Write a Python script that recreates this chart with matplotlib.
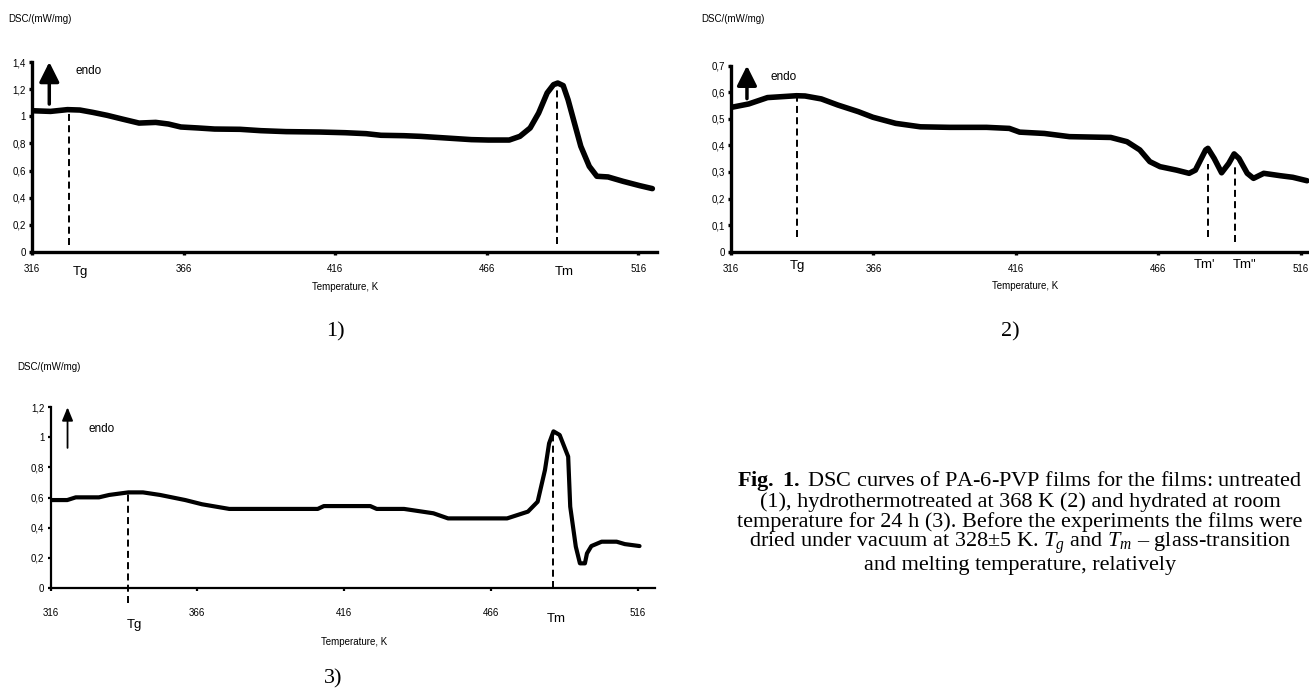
import matplotlib
matplotlib.use("Agg")
import matplotlib.pyplot as plt
from matplotlib.ticker import FixedLocator, FixedFormatter

# ---------------- data ----------------
x_ticks = [316, 366, 416, 466, 516]
x_tick_labels = ["316", "366", "416", "466", "516"]

# Panel 1: untreated
t1 = [316, 322.1, 327.7, 331.8, 336, 340.8, 345.7, 351.3, 356.8, 361, 365.1, 370.7,
      376.2, 384.6, 391.5, 399.8, 410.9, 419.3, 426.2, 431.1, 438.7, 444.2, 452.6,
      460.9, 466.5, 473.4, 476.9, 480.3, 483.1, 485.9, 488, 489.4, 491.2, 492.8,
      494.9, 497, 499.8, 502.3, 506, 510.9, 516.4, 520.6]
dsc1 = [1.041, 1.036, 1.049, 1.046, 1.029, 1.007, 0.98, 0.95, 0.955, 0.943, 0.921, 0.914,
        0.906, 0.904, 0.894, 0.887, 0.884, 0.879, 0.872, 0.86, 0.857, 0.852, 0.84,
        0.828, 0.825, 0.825, 0.852, 0.914, 1.024, 1.172, 1.233, 1.245, 1.226, 1.122,
        0.95, 0.779, 0.631, 0.558, 0.553, 0.521, 0.489, 0.467]
y1_ticks = [0, 0.2, 0.4, 0.6, 0.8, 1.0, 1.2, 1.4]
y1_labels = ["0", "0,2", "0,4", "0,6", "0,8", "1", "1,2", "1,4"]
tg1, tg1_top = 328.1, 1.047
tm1, tm1_top = 489.3, 1.245

# Panel 2: hydrothermotreated at 368 K
t2 = [316, 322.2, 328.8, 339, 342, 347.7, 353.5, 360.7, 365.8, 373.8, 382.5, 392.7,
      405.7, 413.7, 417.3, 426, 434.8, 449.3, 455, 459.5, 463, 466.6, 472.4, 476.8,
      479, 482.6, 483.4, 485.6, 488.2, 490.7, 492.6, 494.3, 497.2, 499.4, 503, 508.8,
      513.2, 518.2]
dsc2 = [0.543, 0.556, 0.58, 0.587, 0.586, 0.575, 0.552, 0.527, 0.506, 0.483, 0.47, 0.468,
        0.468, 0.464, 0.45, 0.445, 0.433, 0.43, 0.414, 0.383, 0.339, 0.32, 0.307, 0.295,
        0.307, 0.383, 0.389, 0.351, 0.297, 0.332, 0.368, 0.351, 0.295, 0.276, 0.295, 0.286,
        0.28, 0.267]
y2_ticks = [0, 0.1, 0.2, 0.3, 0.4, 0.5, 0.6, 0.7]
y2_labels = ["0", "0,1", "0,2", "0,3", "0,4", "0,5", "0,6", "0,7"]
tg2, tg2_top = 339.0, 0.587
tm2a, tm2a_top = 483.4, 0.33
tm2b, tm2b_top = 493.0, 0.32

# Panel 3: hydrated at room temperature
t3 = [316, 321.7, 324.6, 332.5, 336, 342.5, 347.5, 353.3, 361.9, 367.6, 376.9, 384.8,
      407, 409.1, 424.9, 427.1, 436.4, 446.4, 451.4, 471.5, 478.6, 481.9, 484.4, 485.8,
      487.3, 489.4, 492.3, 493, 494.9, 496.3, 498, 498.7, 500.2, 503.7, 508.8, 511.6, 516.6]
dsc3 = [0.583, 0.583, 0.601, 0.601, 0.617, 0.634, 0.634, 0.617, 0.583, 0.555, 0.524, 0.524,
        0.524, 0.543, 0.543, 0.524, 0.524, 0.495, 0.461, 0.461, 0.506, 0.572, 0.783, 0.96,
        1.04, 1.016, 0.872, 0.539, 0.273, 0.162, 0.162, 0.228, 0.277, 0.306, 0.306, 0.29, 0.277]
y3_ticks = [0, 0.2, 0.4, 0.6, 0.8, 1.0, 1.2]
y3_labels = ["0", "0,2", "0,4", "0,6", "0,8", "1", "1,2"]
tg3, tg3_top = 342.5, 0.634
tm3, tm3_top = 487.3, 1.04

caption_lines = [
    r"$\mathbf{Fig.\ 1.}$ DSC curves of PA-6-PVP films for the films: untreated",
    "(1), hydrothermotreated at 368 K (2) and hydrated at room",
    "temperature for 24 h (3). Before the experiments the films were",
    r"dried under vacuum at 328±5 K. $T_g$ and $T_m$ – glass-transition",
    "and melting temperature, relatively",
]

# ---------------- style ----------------
plt.rcParams['font.family'] = ['Liberation Sans', 'DejaVu Sans']
plt.rcParams['mathtext.fontset'] = 'custom'
plt.rcParams['mathtext.rm'] = 'Liberation Serif'
plt.rcParams['mathtext.it'] = 'Liberation Serif:italic'
plt.rcParams['mathtext.bf'] = 'Liberation Serif:bold'

W, H = 1309, 698
fig = plt.figure(figsize=(W / 100, H / 100), dpi=100)


def fx(px):
    return px / W


def fy(py):
    return 1 - py / H


def make_axes(left, right, top, bottom, xlim, ylim, yticks, ylabels,
              spine_lw, xpad):
    ax = fig.add_axes([fx(left), fy(bottom), fx(right - left), (bottom - top) / H])
    ax.set_xlim(*xlim)
    ax.set_ylim(*ylim)
    for s in ['top', 'right']:
        ax.spines[s].set_visible(False)
    for s in ['left', 'bottom']:
        ax.spines[s].set_linewidth(spine_lw)
        ax.spines[s].set_color('black')
        ax.spines[s].set_capstyle('projecting')
    ax.xaxis.set_major_locator(FixedLocator(x_ticks))
    ax.xaxis.set_major_formatter(FixedFormatter(x_tick_labels))
    ax.yaxis.set_major_locator(FixedLocator(yticks))
    ax.yaxis.set_major_formatter(FixedFormatter(ylabels))
    ax.tick_params(axis='both', direction='out', length=2.5, width=spine_lw,
                   labelsize=7, colors='black')
    ax.tick_params(axis='y', pad=2)
    ax.tick_params(axis='x', pad=xpad)
    ax.patch.set_alpha(0)
    return ax


dash = (3.6, 2.2)

# Panel 1
ax1 = make_axes(32, 656.6, 62, 252, (316, 522), (0, 1.4), y1_ticks, y1_labels, 2.4, 6.5)
ax1.plot(t1, dsc1, color='black', lw=4, solid_joinstyle='round', solid_capstyle='round')
ax1.plot([tg1, tg1], [0.054, tg1_top], color='black', lw=1.4, dashes=dash)
ax1.plot([tm1, tm1], [0.06, tm1_top], color='black', lw=1.4, dashes=dash)
ax1.annotate('', xy=(321.7, 1.40), xytext=(321.7, 1.09),
             arrowprops=dict(arrowstyle='-|>,head_length=12,head_width=6', mutation_scale=1,
                             lw=2.5, color='black', shrinkA=0, shrinkB=0))
ax1.text(330.2, 1.33, 'endo', fontsize=8.5, va='center', ha='left')

# Panel 2
ax2 = make_axes(731, 731 + 206 * 2.849, 65.7, 251.7, (316, 522), (0, 0.7), y2_ticks, y2_labels, 2.4, 6)
ax2.plot(t2, dsc2, color='black', lw=4, solid_joinstyle='round', solid_capstyle='round')
ax2.plot([tg2, tg2], [0.054, tg2_top], color='black', lw=1.4, dashes=dash)
ax2.plot([tm2a, tm2a], [0.054, tm2a_top], color='black', lw=1.4, dashes=dash)
ax2.plot([tm2b, tm2b], [0.038, tm2b_top], color='black', lw=1.4, dashes=dash)
ax2.annotate('', xy=(321.6, 0.70), xytext=(321.6, 0.576),
             arrowprops=dict(arrowstyle='-|>,head_length=12,head_width=6', mutation_scale=1,
                             lw=2.5, color='black', shrinkA=0, shrinkB=0))
ax2.text(329.9, 0.656, 'endo', fontsize=8.5, va='center', ha='left')

# Panel 3
ax3 = make_axes(50.5, 654.5, 407.3, 587.7, (316, 521.7), (0, 1.2), y3_ticks, y3_labels, 1.6, 12)
ax3.plot(t3, dsc3, color='black', lw=3, solid_joinstyle='round', solid_capstyle='round')
ax3.plot([tg3, tg3], [-0.1, tg3_top], color='black', lw=1.4, dashes=dash, clip_on=False)
ax3.plot([tm3, tm3], [0.0, tm3_top], color='black', lw=1.4, dashes=dash, clip_on=False)
ax3.annotate('', xy=(321.8, 1.2), xytext=(321.8, 0.93),
             arrowprops=dict(arrowstyle='-|>,head_length=8,head_width=3.3', mutation_scale=1,
                             lw=1.3, color='black', shrinkA=0, shrinkB=0))
ax3.text(329.1, 1.053, 'endo', fontsize=8.5, va='center', ha='left')

# Labels outside axes (pixel positions)
def ftext(px, py, s, **kw):
    return fig.text(fx(px), fy(py), s, **kw)

ftext(8, 19, 'DSC/(mW/mg)', fontsize=7, ha='left', va='center')
ftext(701, 19, 'DSC/(mW/mg)', fontsize=7, ha='left', va='center')
ftext(17, 367, 'DSC/(mW/mg)', fontsize=7, ha='left', va='center')

ftext(80, 272, 'Tg', fontsize=9.5, ha='center', va='center')
ftext(564, 272, 'Tm', fontsize=9.5, ha='center', va='center')
ftext(345, 287, 'Temperature, K', fontsize=7, ha='center', va='center')

ftext(797, 266, 'Tg', fontsize=9.5, ha='center', va='center')
ftext(1204, 265, "Tm'", fontsize=9.5, ha='center', va='center')
ftext(1245, 265, 'Tm"', fontsize=9.5, ha='center', va='center')
ftext(1025, 286, 'Temperature, K', fontsize=7, ha='center', va='center')

ftext(134, 625, 'Tg', fontsize=9.5, ha='center', va='center')
ftext(556, 619, 'Tm', fontsize=9.5, ha='center', va='center')
ftext(354, 642, 'Temperature, K', fontsize=7, ha='center', va='center')

ftext(335, 332, '1)', fontsize=16, ha='center', va='center', family='Liberation Serif')
ftext(1010, 332, '2)', fontsize=16, ha='center', va='center', family='Liberation Serif')
ftext(333, 679, '3)', fontsize=16, ha='center', va='center', family='Liberation Serif')

ftext(1020, 522, "\n".join(caption_lines), fontsize=16, ha='center', va='center',
      multialignment='center', linespacing=0.95, family='Liberation Serif')

fig.savefig('out.png', dpi=100)
